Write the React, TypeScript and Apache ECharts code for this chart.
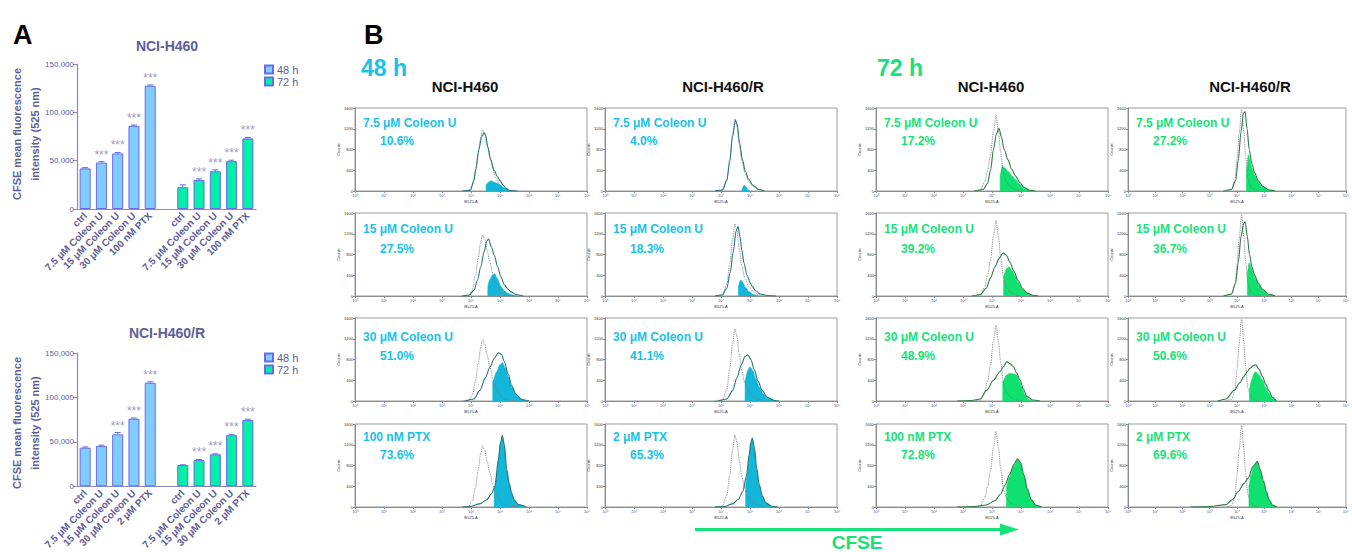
import React, { useEffect, useRef } from 'react';
import * as echarts from 'echarts';

// ---------- Panel A data ----------
const baseCats = ['ctrl', '7.5 μM Coleon U', '15 μM Coleon U', '30 μM Coleon U'];
const topCats = [...baseCats, '100 nM PTX', '', ...baseCats, '100 nM PTX'];
const botCats = [...baseCats, '2 μM PTX', '', ...baseCats, '2 μM PTX'];
const top48 = [42000, 48000, 57500, 86000, 127500];
const top72 = [22500, 30000, 39000, 49500, 73000];
const top48Err = [800, 1000, 1000, 800, 800];
const top72Err = [2500, 1200, 1500, 1000, 800];
const bot48 = [43500, 45500, 58500, 76000, 116500];
const bot72 = [24000, 29500, 36000, 57500, 74500];
const bot48Err = [800, 800, 2000, 800, 1000];
const bot72Err = [300, 600, 600, 1000, 1000];
const topSig48 = ['', '***', '***', '***', '***'];
const topSig72 = ['', '***', '***', '***', '***'];
const botSig48 = ['', '', '***', '***', '***'];
const botSig72 = ['', '***', '***', '***', '***'];
const yTicksA = [0, 50000, 100000, 150000];

// ---------- Panel B data (x = log10 fluorescence, y = counts) ----------
const histXTicks = ['10⁰', '10¹', '10²', '10³', '10⁴', '10⁵', '10⁶', '10⁷', '10⁸'];
const colHeaders = ['NCI-H460', 'NCI-H460/R', 'NCI-H460', 'NCI-H460/R'];
const rowLabelsH460 = ['7.5 μM Coleon U', '15 μM Coleon U', '30 μM Coleon U', '100 nM PTX'];
const rowLabelsR = ['7.5 μM Coleon U', '15 μM Coleon U', '30 μM Coleon U', '2 μM PTX'];
const percents = [
  ['10.6%', '4.0%', '17.2%', '27.2%'],
  ['27.5%', '18.3%', '39.2%', '36.7%'],
  ['51.0%', '41.1%', '48.9%', '50.6%'],
  ['73.6%', '65.3%', '72.8%', '69.6%'],
];

const ctrl48H460 = [[3.7,0],[3.92,15],[4.05,120],[4.15,380],[4.25,720],[4.33,1020],[4.4,1180],[4.47,1100],[4.56,880],[4.65,660],[4.75,430],[4.85,250],[5.0,110],[5.15,40],[5.35,10],[5.6,0]];
const ctrl48R = [[3.8,0],[4.05,20],[4.2,220],[4.3,620],[4.4,1100],[4.48,1390],[4.55,1250],[4.63,900],[4.72,580],[4.82,350],[4.95,190],[5.1,90],[5.3,25],[5.5,0]];
const ctrl72H460 = [[3.4,0],[3.6,20],[3.75,180],[3.85,400],[3.95,700],[4.05,1150],[4.14,1460],[4.22,1150],[4.3,740],[4.4,330],[4.5,170],[4.65,70],[4.85,15],[5.0,0]];
const ctrl72R = [[3.6,0],[3.8,30],[3.92,200],[4.0,600],[4.08,1100],[4.17,1580],[4.25,1150],[4.32,650],[4.4,250],[4.5,80],[4.65,20],[4.8,0]];

const r1c1Solid = [[3.7,0],[3.98,15],[4.1,200],[4.17,430],[4.27,800],[4.37,1050],[4.45,1120],[4.5,1080],[4.58,850],[4.68,600],[4.8,400],[4.9,290],[5.0,200],[5.1,120],[5.2,50],[5.33,10],[5.6,0]];
const r1c1Fill = [[4.52,0],[4.52,120],[4.6,170],[4.7,200],[4.8,170],[4.9,150],[5.0,120],[5.1,70],[5.2,30],[5.3,0]];
const r1c2Solid = [[3.8,0],[4.05,20],[4.2,200],[4.3,560],[4.4,1050],[4.5,1370],[4.56,1280],[4.64,930],[4.74,600],[4.84,380],[4.95,230],[5.1,110],[5.3,30],[5.5,0]];
const r1c2Fill = [[4.72,0],[4.74,60],[4.8,110],[4.86,80],[4.92,30],[4.98,0]];
const r1c3Solid = [[3.4,0],[3.7,30],[3.85,150],[3.95,400],[4.05,800],[4.15,1100],[4.24,1210],[4.32,1050],[4.42,800],[4.55,600],[4.68,420],[4.8,300],[4.95,170],[5.1,70],[5.3,15],[5.5,0]];
const r1c3Fill = [[4.28,0],[4.28,300],[4.35,480],[4.45,440],[4.55,380],[4.68,300],[4.8,220],[4.95,130],[5.1,50],[5.3,0]];
const r1c4Solid = [[3.5,0],[3.8,30],[3.95,200],[4.05,600],[4.15,1150],[4.24,1500],[4.3,1530],[4.37,1200],[4.45,800],[4.55,520],[4.65,350],[4.78,200],[4.95,90],[5.15,25],[5.4,0]];
const r1c4Fill = [[4.35,0],[4.35,400],[4.42,700],[4.48,600],[4.55,430],[4.65,300],[4.78,170],[4.95,70],[5.15,15],[5.3,0]];

const r2c1Solid = [[3.7,0],[3.95,20],[4.11,120],[4.22,300],[4.34,570],[4.45,850],[4.55,1060],[4.61,1100],[4.7,950],[4.8,790],[4.92,560],[5.03,370],[5.15,220],[5.28,130],[5.38,80],[5.55,30],[5.8,0]];
const r2c1Fill = [[4.58,0],[4.58,200],[4.65,320],[4.75,410],[4.82,430],[4.9,340],[5.03,190],[5.15,100],[5.24,60],[5.38,25],[5.55,0]];
const r2c2Solid = [[3.8,0],[4.05,20],[4.2,150],[4.32,450],[4.42,850],[4.52,1250],[4.59,1340],[4.65,1150],[4.72,880],[4.79,640],[4.9,400],[5.0,260],[5.08,180],[5.2,100],[5.35,40],[5.6,10],[5.9,0]];
const r2c2Fill = [[4.6,0],[4.6,200],[4.68,310],[4.75,260],[4.85,160],[4.97,80],[5.1,30],[5.3,0]];
const r2c3Solid = [[3.3,0],[3.6,30],[3.8,150],[3.95,350],[4.1,560],[4.25,730],[4.38,830],[4.5,780],[4.62,650],[4.75,480],[4.9,300],[5.05,150],[5.2,60],[5.4,15],[5.6,0]];
const r2c3Fill = [[4.4,0],[4.4,380],[4.5,530],[4.6,560],[4.7,480],[4.8,370],[4.9,260],[5.05,130],[5.2,50],[5.4,0]];
const r2c4Solid = [[3.5,0],[3.8,40],[3.95,250],[4.05,650],[4.15,1150],[4.25,1400],[4.3,1430],[4.38,1150],[4.46,800],[4.55,560],[4.65,400],[4.78,250],[4.95,120],[5.15,35],[5.4,0]];
const r2c4Fill = [[4.38,0],[4.38,450],[4.45,640],[4.52,560],[4.6,430],[4.7,320],[4.82,200],[4.95,100],[5.15,25],[5.35,0]];

const r3c1Solid = [[3.8,0],[4.1,40],[4.3,200],[4.5,450],[4.65,650],[4.8,820],[4.95,930],[5.05,900],[5.15,760],[5.28,520],[5.4,300],[5.55,130],[5.75,30],[6.0,0]];
const r3c1Fill = [[4.75,0],[4.75,380],[4.88,560],[5.0,700],[5.08,740],[5.18,640],[5.3,450],[5.42,260],[5.55,110],[5.75,25],[5.95,0]];
const r3c2Solid = [[3.9,0],[4.2,40],[4.4,200],[4.55,450],[4.7,700],[4.83,860],[4.93,890],[5.03,800],[5.15,600],[5.28,380],[5.42,200],[5.6,70],[5.85,10],[6.0,0]];
const r3c2Fill = [[4.83,0],[4.83,400],[4.93,600],[5.0,660],[5.1,580],[5.2,430],[5.32,270],[5.45,140],[5.6,50],[5.85,0]];
const r3c3Solid = [[2.8,0],[3.3,10],[3.6,40],[3.82,210],[4.05,400],[4.28,570],[4.39,660],[4.51,760],[4.62,720],[4.74,660],[4.85,540],[4.97,400],[5.08,230],[5.2,90],[5.4,20],[5.66,0]];
const r3c3Fill = [[4.37,0],[4.37,370],[4.5,500],[4.62,535],[4.74,520],[4.85,500],[4.95,380],[5.02,270],[5.14,120],[5.26,30],[5.4,0]];
const r3c4Solid = [[3.3,0],[3.6,40],[3.91,210],[4.1,350],[4.25,470],[4.38,570],[4.48,630],[4.6,680],[4.69,700],[4.8,620],[4.94,470],[5.05,330],[5.17,200],[5.3,70],[5.45,0]];
const r3c4Fill = [[4.46,0],[4.46,245],[4.55,420],[4.62,530],[4.69,565],[4.8,500],[4.94,400],[5.05,260],[5.17,150],[5.3,50],[5.45,0]];

const r4c1Solid = [[3.7,0],[3.95,10],[4.3,60],[4.54,140],[4.7,250],[4.83,400],[4.94,910],[5.02,1250],[5.08,1380],[5.15,1200],[5.23,720],[5.32,450],[5.4,270],[5.5,130],[5.63,45],[5.9,0]];
const r4c1Fill = [[4.8,0],[4.8,360],[4.88,600],[4.94,900],[5.02,1230],[5.08,1330],[5.15,1180],[5.23,710],[5.32,440],[5.4,260],[5.5,120],[5.63,40],[5.85,0]];
const r4c2Solid = [[3.8,0],[4.1,10],[4.4,60],[4.6,150],[4.75,300],[4.88,600],[4.97,1000],[5.03,1250],[5.08,1330],[5.15,1150],[5.23,750],[5.32,430],[5.42,220],[5.55,80],[5.75,15],[5.95,0]];
const r4c2Fill = [[4.85,0],[4.85,420],[4.92,700],[4.98,1020],[5.03,1230],[5.08,1290],[5.15,1120],[5.23,730],[5.32,420],[5.42,210],[5.55,70],[5.75,0]];
const r4c3Solid = [[2.8,0],[3.4,10],[3.8,40],[4.1,120],[4.3,250],[4.45,420],[4.6,620],[4.75,820],[4.88,930],[4.98,860],[5.1,620],[5.22,350],[5.35,150],[5.5,40],[5.7,0]];
const r4c3Fill = [[4.5,0],[4.5,400],[4.6,580],[4.75,800],[4.88,910],[4.98,850],[5.1,610],[5.22,340],[5.35,140],[5.5,35],[5.7,0]];
const r4c4Solid = [[2.3,0],[3.0,10],[3.6,45],[3.85,150],[4.05,300],[4.25,450],[4.42,560],[4.58,780],[4.75,880],[4.85,720],[4.98,490],[5.08,300],[5.18,140],[5.3,40],[5.45,0]];
const r4c4Fill = [[4.44,0],[4.44,420],[4.52,620],[4.6,780],[4.75,870],[4.85,710],[4.98,480],[5.08,290],[5.18,130],[5.3,35],[5.45,0]];

const controls = [ctrl48H460, ctrl48R, ctrl72H460, ctrl72R];
const solids = [
  [r1c1Solid, r1c2Solid, r1c3Solid, r1c4Solid],
  [r2c1Solid, r2c2Solid, r2c3Solid, r2c4Solid],
  [r3c1Solid, r3c2Solid, r3c3Solid, r3c4Solid],
  [r4c1Solid, r4c2Solid, r4c3Solid, r4c4Solid],
];
const fills = [
  [r1c1Fill, r1c2Fill, r1c3Fill, r1c4Fill],
  [r2c1Fill, r2c2Fill, r2c3Fill, r2c4Fill],
  [r3c1Fill, r3c2Fill, r3c3Fill, r3c4Fill],
  [r4c1Fill, r4c2Fill, r4c3Fill, r4c4Fill],
];

// ---------- styling / layout ----------
const FONT = 'Liberation Sans, Arial, Helvetica, sans-serif';
const A_TEXT = '#5e5e98';
const A_AXIS = '#8a8ac0';
const BAR48 = '#80ccff';
const BAR72 = '#00f0aa';
const BAR_BORDER = '#6a6ae6';
const CYAN = '#18c2e6';
const GREEN = '#16e27a';
const FILL48 = '#12b6d8';
const FILL72 = '#10e06e';
const SOLID48 = '#2a7479';
const SOLID72 = '#2d7a48';
const CHART_W = 1352;
const colLeft = [355, 605, 876, 1128];
const rowTop = [108, 213, 318, 424];
const HW = 232;
const HH = 83;
const labelDy = [15, 16, 19, 13];
const pctDy = [33, 36, 38, 31];

function fmtThousands(v: number) {
  return v.toLocaleString('en-US');
}

function buildOption() {
  const grids: any[] = [];
  const xAxes: any[] = [];
  const yAxes: any[] = [];
  const series: any[] = [];
  const graphics: any[] = [];

  // Panel A bar charts
  const barSets = [
    { cats: topCats, v48: top48, v72: top72, e48: top48Err, e72: top72Err, s48: topSig48, s72: topSig72, top: 64, title: 'NCI-H460', titleY: 46, legendTop: 59 },
    { cats: botCats, v48: bot48, v72: bot72, e48: bot48Err, e72: bot72Err, s48: botSig48, s72: botSig72, top: 353, title: 'NCI-H460/R', titleY: 333, legendTop: 347 },
  ];
  const legends: any[] = [];
  barSets.forEach((b, gi) => {
    grids.push({ left: 77, top: b.top, width: 179, height: 145 });
    xAxes.push({
      type: 'category', gridIndex: gi, data: b.cats,
      axisLine: { lineStyle: { color: A_AXIS, width: 1.2 } },
      axisTick: { alignWithLabel: true, length: 4, lineStyle: { color: A_AXIS }, interval: (i: number, v: string) => v !== '' },
      axisLabel: { interval: 0, rotate: 45, fontSize: 10, fontWeight: 'bold', color: A_TEXT, fontFamily: FONT, margin: 5 },
    });
    yAxes.push({
      type: 'value', gridIndex: gi, min: 0, max: 150000, interval: 50000,
      axisLine: { show: true, lineStyle: { color: A_AXIS, width: 1.2 } },
      axisTick: { show: true, length: 4, lineStyle: { color: A_AXIS } },
      splitLine: { show: false },
      axisLabel: { fontSize: 8, color: A_TEXT, fontFamily: FONT, margin: 3, formatter: (v: number) => (yTicksA.includes(v) ? fmtThousands(v) : '') },
    });
    const pad = (arr: any[], before: number, after: number) => [...Array(before).fill('-'), ...arr, ...Array(after).fill('-')];
    series.push({
      name: '48 h', type: 'bar', xAxisIndex: gi, yAxisIndex: gi, barWidth: 11, barGap: '-100%',
      data: pad(b.v48, 0, 6),
      itemStyle: { color: BAR48, borderColor: BAR_BORDER, borderWidth: 1 },
      label: { show: true, position: 'top', distance: 2, fontSize: 12, color: '#9c9cc0', fontFamily: FONT, formatter: (p: any) => b.s48[p.dataIndex] || '' },
    });
    series.push({
      name: '72 h', type: 'bar', xAxisIndex: gi, yAxisIndex: gi, barWidth: 11, barGap: '-100%',
      data: pad(b.v72, 6, 0),
      itemStyle: { color: BAR72, borderColor: BAR_BORDER, borderWidth: 1 },
      label: { show: true, position: 'top', distance: 2, fontSize: 12, color: '#9c9cc0', fontFamily: FONT, formatter: (p: any) => b.s72[p.dataIndex - 6] || '' },
    });
    const errData = [
      ...b.v48.map((v, i) => [i, v, b.e48[i]]),
      ...b.v72.map((v, i) => [i + 6, v, b.e72[i]]),
    ];
    series.push({
      type: 'custom', xAxisIndex: gi, yAxisIndex: gi, data: errData, z: 5,
      renderItem: (params: any, api: any) => {
        const x = api.value(0), v = api.value(1), e = api.value(2);
        const p1 = api.coord([x, v]);
        const p2 = api.coord([x, v + e]);
        const st = { stroke: BAR_BORDER, lineWidth: 1 };
        return {
          type: 'group', children: [
            { type: 'line', shape: { x1: p1[0], y1: p1[1], x2: p2[0], y2: p2[1] }, style: st },
            { type: 'line', shape: { x1: p2[0] - 3, y1: p2[1], x2: p2[0] + 3, y2: p2[1] }, style: st },
          ],
        };
      },
    });
    legends.push({
      data: ['48 h', '72 h'], orient: 'vertical', left: 259, top: b.legendTop, itemWidth: 8, itemHeight: 8, itemGap: 1,
      icon: 'rect', selectedMode: false,
      textStyle: { fontSize: 11, color: A_TEXT, fontFamily: FONT, padding: [0, 0, 0, -1] },
    });
    graphics.push({ type: 'text', style: { text: b.title, x: 167, y: b.titleY, font: `bold 14px ${FONT}`, fill: A_TEXT, textAlign: 'center', textVerticalAlign: 'middle', align: 'center', verticalAlign: 'middle' } });
    const cy = b.top + 70;
    graphics.push({ type: 'text', rotation: Math.PI / 2, x: 17, y: cy, style: { text: 'CFSE mean fluorescence', x: 0, y: 0, font: `bold 11px ${FONT}`, fill: A_TEXT, textAlign: 'center', textVerticalAlign: 'middle', align: 'center', verticalAlign: 'middle' } });
    graphics.push({ type: 'text', rotation: Math.PI / 2, x: 35, y: cy, style: { text: 'intensity (525 nm)', x: 0, y: 0, font: `bold 11px ${FONT}`, fill: A_TEXT, textAlign: 'center', textVerticalAlign: 'middle', align: 'center', verticalAlign: 'middle' } });
  });

  // Panel B histograms
  for (let r = 0; r < 4; r++) {
    for (let c = 0; c < 4; c++) {
      const gi = grids.length;
      const is48 = c < 2;
      grids.push({ left: colLeft[c], top: rowTop[r], right: CHART_W - colLeft[c] - HW, height: HH, show: true, borderColor: '#9c9c9c', borderWidth: 1, backgroundColor: 'transparent' });
      xAxes.push({
        type: 'value', gridIndex: gi, min: 0, max: 8, interval: 1,
        axisLine: { lineStyle: { color: '#8c8c8c', width: 1 } },
        axisTick: { length: 2, lineStyle: { color: '#8c8c8c' } },
        splitLine: { show: false },
        axisLabel: { fontSize: 4, color: '#4a5a9a', margin: 2, fontFamily: FONT, formatter: (v: number) => histXTicks[Math.round(v)] },
        name: 'B525-A', nameLocation: 'middle', nameGap: 8, nameTextStyle: { fontSize: 4, color: '#333', fontFamily: FONT },
      });
      yAxes.push({
        type: 'value', gridIndex: gi, min: 0, max: 1600, interval: 400,
        axisLine: { show: true, lineStyle: { color: '#8c8c8c', width: 1 } },
        axisTick: { show: true, length: 2, lineStyle: { color: '#8c8c8c' } },
        splitLine: { show: false },
        axisLabel: { fontSize: 4, color: '#333', margin: 2, fontFamily: FONT, formatter: (v: number) => String(v) },
        name: 'Counts', nameLocation: 'middle', nameGap: 10, nameRotate: 90, nameTextStyle: { fontSize: 4, color: '#333', fontFamily: FONT },
      });
      const fillColor = is48 ? FILL48 : FILL72;
      const solidColor = is48 ? SOLID48 : SOLID72;
      const common = { type: 'line', xAxisIndex: gi, yAxisIndex: gi, showSymbol: false, symbol: 'none', smooth: 0.3, smoothMonotone: 'x', silent: true };
      series.push({ ...common, data: fills[r][c], lineStyle: { color: fillColor, width: 0.6 }, areaStyle: { color: fillColor, opacity: 1 } });
      series.push({ ...common, data: controls[c], lineStyle: { color: '#7a7a7a', width: 0.9, type: 'dotted' } });
      series.push({ ...common, data: solids[r][c], lineStyle: { color: solidColor, width: 1.1 } });
      const txtColor = is48 ? CYAN : GREEN;
      const label = (c % 2 === 0 ? rowLabelsH460 : rowLabelsR)[r];
      graphics.push({ type: 'text', style: { text: label, x: colLeft[c] + 8, y: rowTop[r] + labelDy[r], font: `bold 12px ${FONT}`, fill: txtColor, textAlign: 'left', textVerticalAlign: 'middle', align: 'left', verticalAlign: 'middle' } });
      graphics.push({ type: 'text', style: { text: percents[r][c], x: colLeft[c] + 25, y: rowTop[r] + pctDy[r], font: `bold 12px ${FONT}`, fill: txtColor, textAlign: 'left', textVerticalAlign: 'middle', align: 'left', verticalAlign: 'middle' } });
    }
  }

  // headers
  const hdrX = [465, 723, 991, 1250];
  hdrX.forEach((x, i) => {
    graphics.push({ type: 'text', style: { text: colHeaders[i], x, y: 86, font: `bold 15px ${FONT}`, fill: '#111', textAlign: 'center', textVerticalAlign: 'middle', align: 'center', verticalAlign: 'middle' } });
  });
  graphics.push({ type: 'text', style: { text: '48 h', x: 361, y: 68, font: `bold 23px ${FONT}`, fill: CYAN, textAlign: 'left', textVerticalAlign: 'middle', align: 'left', verticalAlign: 'middle' } });
  graphics.push({ type: 'text', style: { text: '72 h', x: 877, y: 68, font: `bold 23px ${FONT}`, fill: GREEN, textAlign: 'left', textVerticalAlign: 'middle', align: 'left', verticalAlign: 'middle' } });
  graphics.push({ type: 'text', style: { text: 'A', x: 13, y: 35, font: `bold 27px ${FONT}`, fill: '#000', textAlign: 'left', textVerticalAlign: 'middle', align: 'left', verticalAlign: 'middle' } });
  graphics.push({ type: 'text', style: { text: 'B', x: 364, y: 35, font: `bold 27px ${FONT}`, fill: '#000', textAlign: 'left', textVerticalAlign: 'middle', align: 'left', verticalAlign: 'middle' } });
  // CFSE arrow
  graphics.push({ type: 'line', shape: { x1: 695, y1: 529.5, x2: 1004, y2: 529.5 }, style: { stroke: GREEN, lineWidth: 3 } });
  graphics.push({ type: 'polygon', shape: { points: [[1000, 523.5], [1019, 529.5], [1000, 535.5]] }, style: { fill: GREEN } });
  graphics.push({ type: 'text', style: { text: 'CFSE', x: 857, y: 542, font: `bold 19px ${FONT}`, fill: GREEN, textAlign: 'center', textVerticalAlign: 'middle', align: 'center', verticalAlign: 'middle' } });

  return {
    animation: false,
    backgroundColor: '#ffffff',
    grid: grids,
    xAxis: xAxes,
    yAxis: yAxes,
    legend: legends,
    series,
    graphic: graphics,
  };
}

export default function App() {
  const ref = useRef<HTMLDivElement>(null);
  useEffect(() => {
    if (!ref.current) return;
    const chart = echarts.init(ref.current, undefined, { renderer: 'svg' });
    chart.setOption(buildOption() as any);
    return () => chart.dispose();
  }, []);
  return <div ref={ref} style={{ position: 'absolute', left: 0, top: 0, width: 1352, height: 552 }} />;
}
